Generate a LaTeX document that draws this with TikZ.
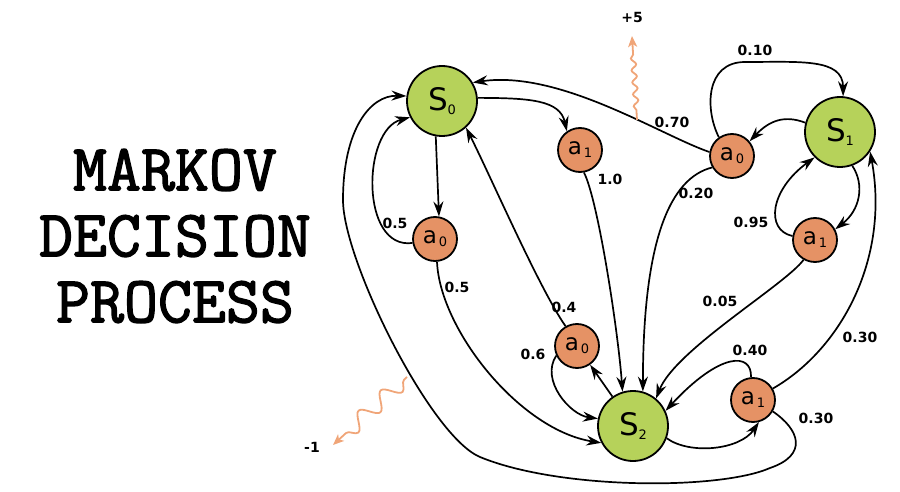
\documentclass[tikz,border=0pt]{standalone}
\usepackage{fontspec}
\usepackage{xcolor}
\usepackage{tikz}
\usetikzlibrary{arrows.meta,decorations.pathmorphing}
\newfontfamily\nodefont{DejaVu Sans}
\newfontfamily\titlefont{Latin Modern Mono}[FakeBold=2]
\definecolor{stategreen}{RGB}{182,210,90}
\definecolor{actorange}{RGB}{229,146,101}
\definecolor{rewardorange}{RGB}{240,165,120}
\newcommand{\stlab}[1]{{\fontsize{31}{31}\selectfont S}\raisebox{-4pt}{\fontsize{13}{13}\selectfont #1}}
\newcommand{\aclab}[1]{{\fontsize{23}{23}\selectfont a}\kern2pt\raisebox{-3pt}{\fontsize{13}{13}\selectfont #1}}

\begin{document}
\begin{tikzpicture}[x=1pt,y=-1pt,>={Stealth[length=15pt,width=10pt,inset=5pt]},
      state/.style={circle,draw=black,line width=1.8pt,fill=stategreen,minimum size=70pt,inner sep=0pt,font=\nodefont},
      act/.style={circle,draw=black,line width=1.8pt,fill=actorange,minimum size=44pt,inner sep=0pt,font=\nodefont},
      trans/.style={->,line width=1.7pt},
      prob/.style={font=\nodefont\bfseries\fontsize{14}{14}\selectfont,inner sep=0pt},
      reward/.style={-{Stealth[length=11pt,width=9pt,inset=3pt]},line width=1.8pt,draw=rewardorange,decorate}]
    \useasboundingbox (0,0) rectangle (900,492);
    \node[font=\titlefont\fontsize{66}{66}\selectfont,align=center,inner sep=0pt] (title) at (175,236) {MARKOV\\DECISION\\PROCESS};
    % states and actions
    \node[state] (S0) at (442,101) {\stlab{0}};
    \node[state] (S1) at (840,132) {\stlab{1}};
    \node[state] (S2) at (633,426) {\stlab{2}};
    \node[act] (a00) at (435,239) {\aclab{0}};
    \node[act] (a01) at (580,150) {\aclab{1}};
    \node[act] (a10) at (732,156) {\aclab{0}};
    \node[act] (a11) at (815,240) {\aclab{1}};
    \node[act] (a20) at (577,346) {\aclab{0}};
    \node[act] (a21) at (753,400) {\aclab{1}};
    % from S0
    \draw[trans] (S0.-100) -- (a00.80);
    \draw[trans] (S0.5) .. controls (530,98) and (560,100) .. (a01.125);
    \draw[trans] (a00.190) .. controls (360,250) and (362,130) .. (S0.207);
    \draw[trans] (a00.-85) .. controls (440,330) and (520,430) .. (S2.208);
    \draw[trans] (a01.-80) .. controls (598,200) and (618,330) .. (S2.107);
    % from S1
    \draw[trans] (S1.165) .. controls (785,115) and (770,120) .. (a10.40);
    \draw[trans] (S1.-70) .. controls (865,185) and (860,210) .. (a11.28);
    \draw[trans] (a10.170) .. controls (660,135) and (560,70) .. (S0.31);
    \draw[trans] (a10.125) .. controls (705,110) and (705,62) .. (745,62) .. controls (800,62) and (843,58) .. (S1.85);
    \draw[trans] (a10.-150) .. controls (670,178) and (643,240) .. (S2.74);
    \draw[trans] (a11.170) .. controls (765,230) and (770,190) .. (S1.-135);
    \draw[trans] (a11.-120) .. controls (785,285) and (675,350) .. (S2.50);
    % from S2
    \draw[trans] (S2) -- (a20);
    \draw[trans] (S2.-20) .. controls (690,455) and (740,450) .. (a21.-75);
    \draw[trans] (a20.120) .. controls (540,290) and (490,175) .. (S0.-48);
    \draw[trans] (a20.205) .. controls (540,380) and (570,415) .. (S2.168);
    \draw[trans] (a21.95) .. controls (752,352) and (720,352) .. (S2.25);
    \draw[trans] (a21.30) .. controls (840,350) and (890,260) .. (S1.-33);
    \draw[trans] (a21.-30) .. controls (800,430) and (808,455) .. (770,468)
      .. controls (720,490) and (560,490) .. (480,457)
      .. controls (430,436) and (343,260) .. (343,200)
      .. controls (343,130) and (370,95) .. (S0.172);
    % probabilities
    \node[prob] (q0a0s0) at (395,223) {0.5};
    \node[prob] (q0a0s2) at (457,287) {0.5};
    \node[prob] (q0a1s2) at (610,179) {1.0};
    \node[prob] (q1a0s0) at (672,122) {0.70};
    \node[prob] (q1a0s1) at (755,50) {0.10};
    \node[prob] (q1a0s2) at (696,193) {0.20};
    \node[prob] (q1a1s1) at (751,222) {0.95};
    \node[prob] (q1a1s2) at (720,301) {0.05};
    \node[prob] (q2a0s0) at (564,307) {0.4};
    \node[prob] (q2a0s2) at (533,354) {0.6};
    \node[prob] (q2a1s2) at (750,350) {0.40};
    \node[prob] (q2a1s1) at (860,337) {0.30};
    \node[prob] (q2a1s0) at (816,418) {0.30};
    % rewards
    \coordinate (rw5from) at (637,120);
    \coordinate (rw5to) at (632,36);
    \coordinate (rw1from) at (407,377);
    \coordinate (rw1to) at (333,445);
    \draw[reward,decoration={snake,amplitude=2.5pt,segment length=12pt,pre length=10pt,post length=16pt}] (rw5from) -- (rw5to);
    \draw[reward,decoration={snake,amplitude=8pt,segment length=30pt,pre length=4pt,post length=12pt}] (rw1from) -- (rw1to);
    \node[prob] (r5) at (632,17) {+5};
    \node[prob] (rm1) at (312,447) {-1};
  \end{tikzpicture}
\end{document}
